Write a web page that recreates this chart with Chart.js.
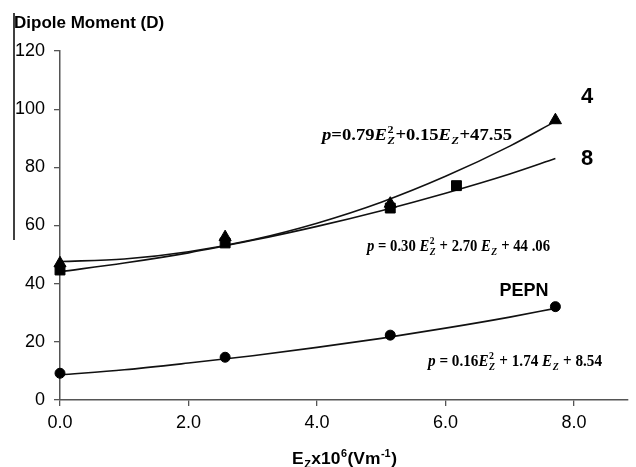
<!DOCTYPE html>
<html>
<head>
<meta charset="utf-8">
<script src="https://cdn.jsdelivr.net/npm/chart.js@4/dist/chart.umd.min.js"></script>
<style>
  html, body { margin: 0; padding: 0; background: #fff; }
  #wrap { width: 636px; height: 467px; position: relative; }
</style>
</head>
<body>
<div id="wrap"><canvas id="c" width="636" height="467"></canvas></div>
<script>
// ---- data ----
const xTickValues = [0, 2, 4, 6, 8];
const yTickStep = 20;

const pointX = [0, 2.57, 5.14, 7.71];
const molecule4 = [47, 56, 67.5, 96.2];          // triangles
const molecule8X = [0, 2.57, 5.14, 6.17];
const molecule8 = [44.7, 54, 66, 73.7];          // squares
const pepn = [9.2, 14.7, 22.3, 32.1];            // circles

const trendX = [0, 1, 2, 3, 4, 5, 6, 7, 7.71];
const trend4 = [47.6, 48.5, 51.0, 55.1, 60.8, 68.0, 76.9, 87.3, 95.8];
const trend8 = [44.1, 47.1, 50.6, 54.9, 59.7, 65.1, 71.1, 77.7, 83.0];
const trendPEPN = [8.6, 10.4, 12.7, 15.2, 18.1, 21.2, 24.7, 28.5, 31.5];

const seriesLabels = ['4', '8', 'PEPN'];
const yTitle = 'Dipole Moment (D)';

// ---- helpers ----
const zip = (xs, ys) => xs.map((x, i) => ({ x: x, y: ys[i] }));
const SANS = '"Liberation Sans", Arial, sans-serif';
const SERIF = '"Liberation Serif", "Times New Roman", serif';

// rich text: tokens {t, it} normal text, or {sup, sub} stacked scripts
function richWidth(ctx, tokens, size, fam, bold) {
  let w = 0;
  const b = bold ? 'bold ' : '';
  for (const tk of tokens) {
    if (tk.t !== undefined) {
      ctx.font = (tk.it ? 'italic ' : '') + b + size + 'px ' + fam;
      w += ctx.measureText(tk.t).width;
    } else {
      const s = Math.round(size * 0.65);
      let a = 0, c = 0;
      if (tk.sup) { ctx.font = b + s + 'px ' + fam; a = ctx.measureText(tk.sup).width; }
      if (tk.sub) { ctx.font = (tk.subIt ? 'italic ' : '') + b + s + 'px ' + fam; c = ctx.measureText(tk.sub).width; }
      w += Math.max(a, c) + 1;
    }
  }
  return w;
}
function drawRich(ctx, tokens, x, base, size, fam, bold, targetW, align) {
  const natural = richWidth(ctx, tokens, size, fam, bold);
  const sc = targetW ? targetW / natural : 1;
  const w = natural * sc;
  const startX = align === 'center' ? x - w / 2 : x;
  const b = bold ? 'bold ' : '';
  ctx.save();
  ctx.translate(startX, base);
  ctx.scale(sc, 1);
  ctx.fillStyle = '#000';
  ctx.textBaseline = 'alphabetic';
  ctx.textAlign = 'left';
  let cx = 0;
  for (const tk of tokens) {
    if (tk.t !== undefined) {
      ctx.font = (tk.it ? 'italic ' : '') + b + size + 'px ' + fam;
      ctx.fillText(tk.t, cx, 0);
      cx += ctx.measureText(tk.t).width;
    } else {
      const s = Math.round(size * 0.65);
      let a = 0, c = 0;
      if (tk.sup) {
        ctx.font = b + s + 'px ' + fam;
        ctx.fillText(tk.sup, cx + 0.5, -size * 0.42);
        a = ctx.measureText(tk.sup).width;
      }
      if (tk.sub) {
        ctx.font = (tk.subIt ? 'italic ' : '') + b + s + 'px ' + fam;
        ctx.fillText(tk.sub, cx + 0.5, size * 0.22);
        c = ctx.measureText(tk.sub).width;
      }
      cx += Math.max(a, c) + 1;
    }
  }
  ctx.restore();
}

const eq4 = [{t:'p',it:1},{t:'=0.79'},{t:'E',it:1},{sup:'2',sub:'Z',subIt:1},{t:'+0.15'},{t:'E',it:1},{sub:'Z',subIt:1},{t:'+47.55'}];
const eq8 = [{t:'p',it:1},{t:' = 0.30 '},{t:'E',it:1},{sup:'2',sub:'Z',subIt:1},{t:' + 2.70 '},{t:'E',it:1},{sub:'Z',subIt:1},{t:' + 44 .06'}];
const eqP = [{t:'p',it:1},{t:' = 0.16'},{t:'E',it:1},{sup:'2',sub:'Z',subIt:1},{t:' + 1.74 '},{t:'E',it:1},{sub:'Z',subIt:1},{t:' + 8.54'}];
const xTitle = [{t:'E'},{sub:'Z'},{t:'x10'},{sup:'6'},{t:'(Vm'},{sup:'-1'},{t:')'}];

const annotations = {
  id: 'annotations',
  afterDraw(chart) {
    const ctx = chart.ctx;
    ctx.save();
    // stray frame line at left
    ctx.strokeStyle = '#000';
    ctx.lineWidth = 1.5;
    ctx.beginPath();
    ctx.moveTo(14, 13);
    ctx.lineTo(14, 240);
    ctx.stroke();
    // y title
    ctx.fillStyle = '#000';
    ctx.font = 'bold 17px ' + SANS;
    ctx.textBaseline = 'middle';
    ctx.textAlign = 'left';
    ctx.fillText(yTitle, 14, 23);
    // series labels
    ctx.textAlign = 'center';
    ctx.font = 'bold 22px ' + SANS;
    ctx.fillText(seriesLabels[0], 587, 97);
    ctx.fillText(seriesLabels[1], 587, 158.5);
    ctx.font = 'bold 18px ' + SANS;
    ctx.fillText(seriesLabels[2], 524, 291);
    ctx.restore();
    // equations
    drawRich(ctx, eq4, 322, 140, 17, SERIF, true, 190, 'left');
    drawRich(ctx, eq8, 367, 251, 17, SERIF, true, 183, 'left');
    drawRich(ctx, eqP, 428, 366, 17, SERIF, true, 174, 'left');
    // x title
    drawRich(ctx, xTitle, 344.5, 464, 16, SANS, true, 105, 'center');
  }
};

const lineStyle = { borderColor: '#111', borderWidth: 1.6, pointRadius: 0, showLine: true, fill: false, cubicInterpolationMode: 'monotone', order: 3, clip: false };
const markStyle = { showLine: false, backgroundColor: '#000', borderColor: '#000', borderWidth: 1, clip: false };

new Chart(document.getElementById('c'), {
  type: 'scatter',
  data: {
    datasets: [
      Object.assign({ label: 'trend ' + seriesLabels[0], data: zip(trendX, trend4) }, lineStyle),
      Object.assign({ label: 'trend ' + seriesLabels[1], data: zip(trendX, trend8) }, lineStyle),
      Object.assign({ label: 'trend ' + seriesLabels[2], data: zip(trendX, trendPEPN) }, lineStyle),
      Object.assign({ label: seriesLabels[0], data: zip(pointX, molecule4), pointStyle: 'triangle', pointRadius: 7, order: 2 }, markStyle),
      Object.assign({ label: seriesLabels[1], data: zip(molecule8X, molecule8), pointStyle: 'rect', pointRadius: 7, order: 1 }, markStyle),
      Object.assign({ label: seriesLabels[2], data: zip(pointX, pepn), pointStyle: 'circle', pointRadius: 5, order: 1 }, markStyle)
    ]
  },
  options: {
    responsive: false,
    animation: false,
    devicePixelRatio: 1,
    layout: { padding: { top: 51, right: 0, left: 0, bottom: 0 } },
    plugins: { legend: { display: false }, tooltip: { enabled: false }, title: { display: false } },
    scales: {
      x: {
        type: 'linear',
        min: 0,
        max: 8.84,
        afterBuildTicks: (s) => { s.ticks = xTickValues.map(v => ({ value: v })); },
        afterFit: (s) => { s.height = 67; },
        ticks: {
          font: { family: SANS, size: 18 },
          color: '#000',
          padding: 6,
          maxRotation: 0,
          autoSkip: false,
          callback: (v) => Number(v).toFixed(1)
        },
        grid: { drawOnChartArea: false, drawTicks: true, tickLength: 6, color: '#555', lineWidth: 1.3 },
        border: { color: '#555', width: 1.5 }
      },
      y: {
        min: 0,
        max: 120,
        afterFit: (s) => { s.width = 60; },
        ticks: {
          stepSize: yTickStep,
          font: { family: SANS, size: 18 },
          color: '#000',
          padding: 9
        },
        grid: { drawOnChartArea: false, drawTicks: true, tickLength: 6, color: '#555', lineWidth: 1.3 },
        border: { color: '#555', width: 1.5 }
      }
    }
  },
  plugins: [annotations]
});
</script>
</body>
</html>
